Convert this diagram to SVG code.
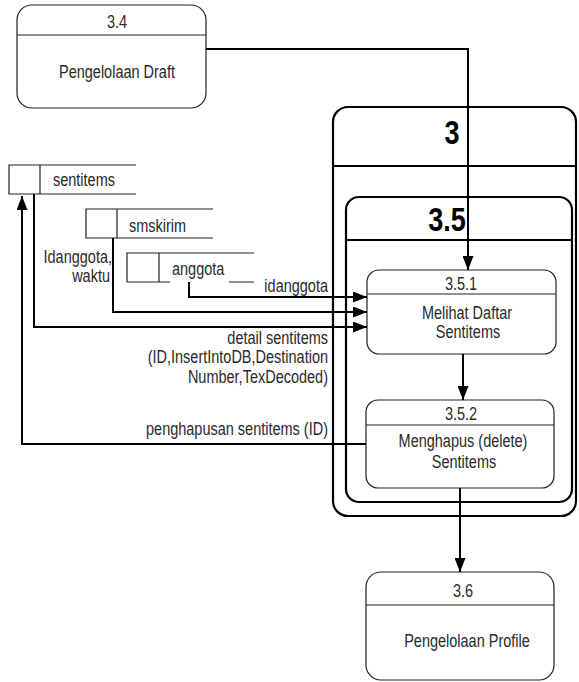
<svg xmlns="http://www.w3.org/2000/svg" width="579" height="682" viewBox="0 0 579 682">
  <style>
    text { font-family: "Liberation Sans", Arial, sans-serif; font-size: 14.5px; fill: #2a2a2a;
           transform: scaleY(1.22); transform-box: fill-box; transform-origin: 50% 70%; }
    .c { text-anchor: middle; }
    .r { text-anchor: end; }
    .big { font-weight: bold; font-size: 27px; fill: #000; }
    .proc { fill: #fff; stroke: #222; stroke-width: 1.2; }
    .frame { fill: none; stroke: #000; stroke-width: 2.2; }
    .div { stroke: #222; stroke-width: 1.2; }
    .divb { stroke: #000; stroke-width: 2.2; }
    .store { stroke: #222; stroke-width: 1.2; fill: none; }
    .flow { fill: none; stroke: #000; stroke-width: 2; }
  </style>
  <defs>
    <marker id="arrow" viewBox="0 0 14 11" refX="14" refY="5.5" markerWidth="14" markerHeight="11" markerUnits="userSpaceOnUse" orient="auto">
      <path d="M0,0 L14,5.5 L0,11 Z" fill="#000"/>
    </marker>
  </defs>

  <rect width="579" height="682" fill="#fff"/>

  <!-- process 3 frame -->
  <g id="p3">
    <rect class="frame" x="333" y="107" width="243" height="409" rx="15"/>
    <line class="divb" x1="333" y1="166" x2="576" y2="166"/>
    <text class="big c" x="452" y="143">3</text>
  </g>

  <!-- process 3.5 frame -->
  <g id="p35">
    <rect class="frame" x="346" y="197" width="226" height="305" rx="13"/>
    <line class="divb" x1="346" y1="240" x2="572" y2="240"/>
    <text class="big c" x="447" y="230">3.5</text>
  </g>

  <!-- process 3.4 -->
  <g id="p34">
    <rect class="proc" x="17" y="5" width="189" height="103" rx="15"/>
    <line class="div" x1="17" y1="35" x2="206" y2="35"/>
    <text class="c" x="117" y="28">3.4</text>
    <text class="c" x="117" y="78">Pengelolaan Draft</text>
  </g>

  <!-- process 3.5.1 -->
  <g id="p351">
    <rect class="proc" x="367" y="270" width="189" height="84" rx="12"/>
    <line class="div" x1="367" y1="294" x2="556" y2="294"/>
    <text class="c" x="461" y="290">3.5.1</text>
    <text class="c" x="467" y="319">Melihat Daftar</text>
    <text class="c" x="468" y="338">Sentitems</text>
  </g>

  <!-- process 3.5.2 -->
  <g id="p352">
    <rect class="proc" x="366" y="400" width="188" height="88" rx="12"/>
    <line class="div" x1="366" y1="425" x2="554" y2="425"/>
    <text class="c" x="461" y="420">3.5.2</text>
    <text class="c" x="463" y="447">Menghapus (delete)</text>
    <text class="c" x="464" y="468">Sentitems</text>
  </g>

  <!-- process 3.6 -->
  <g id="p36">
    <rect class="proc" x="366" y="572" width="188" height="108" rx="15"/>
    <line class="div" x1="366" y1="605" x2="554" y2="605"/>
    <text class="c" x="463" y="597">3.6</text>
    <text class="c" x="467" y="647">Pengelolaan Profile</text>
  </g>

  <!-- data store sentitems -->
  <g id="ds-sentitems">
    <path class="store" d="M136,165 H9 V194 H136 M40,165 V194"/>
    <text x="53" y="186">sentitems</text>
  </g>

  <!-- data store smskirim -->
  <g id="ds-smskirim">
    <path class="store" d="M213,209 H86 V238 H213 M117,209 V238"/>
    <text x="129" y="232">smskirim</text>
  </g>

  <!-- data store anggota -->
  <g id="ds-anggota">
    <path class="store" d="M254,253 H127 V282 H170 M229,282 H254 M159,253 V282"/>
    <text x="172" y="275">anggota</text>
  </g>

  <!-- data flows -->
  <g id="flows">
    <path class="flow" d="M206,49 H468 V270" marker-end="url(#arrow)"/>
    <path class="flow" d="M189,282 V297 H367" marker-end="url(#arrow)"/>
    <path class="flow" d="M113,238 V312 H367" marker-end="url(#arrow)"/>
    <path class="flow" d="M34,194 V327 H367" marker-end="url(#arrow)"/>
    <path class="flow" d="M366,444 H22 V196" marker-end="url(#arrow)"/>
    <path class="flow" d="M463,354 V400" marker-end="url(#arrow)"/>
    <path class="flow" d="M460,488 V572" marker-end="url(#arrow)"/>
  </g>

  <!-- flow labels -->
  <g id="labels">
    <text class="r" x="328" y="292">idanggota</text>
    <text class="r" x="112" y="263">Idanggota,</text>
    <text class="r" x="110" y="282">waktu</text>
    <text class="r" x="328" y="344">detail sentitems</text>
    <text class="r" x="328" y="363">(ID,InsertIntoDB,Destination</text>
    <text class="r" x="328" y="383">Number,TexDecoded)</text>
    <text class="r" x="328" y="435">penghapusan sentitems (ID)</text>
  </g>
</svg>
